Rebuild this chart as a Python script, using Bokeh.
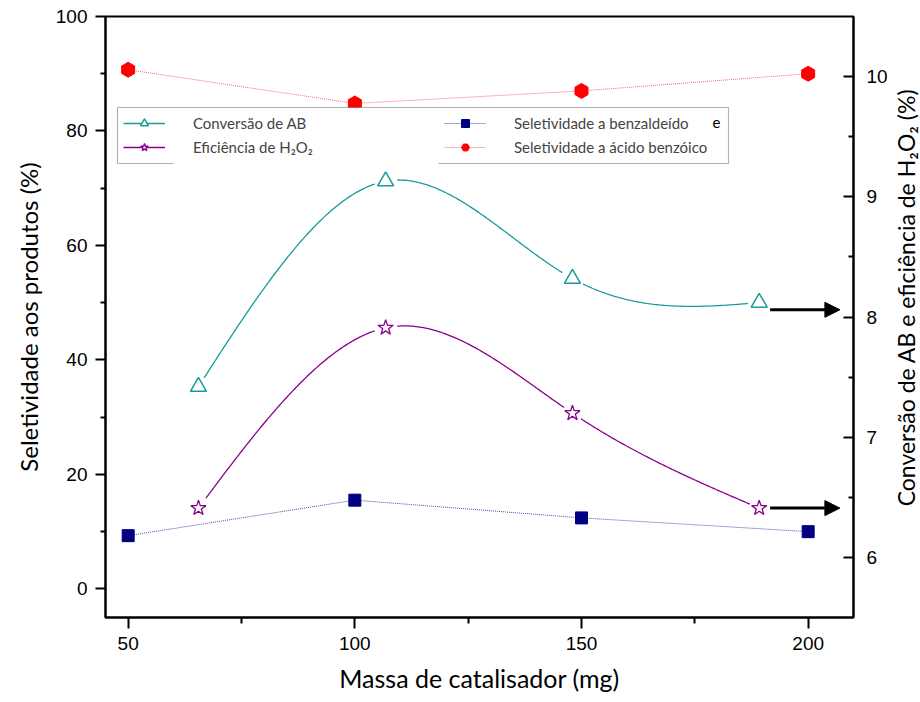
import numpy as np
from bokeh.plotting import figure
from bokeh.layouts import row
from bokeh.models import (Range1d, LinearAxis, Arrow, NormalHead, Legend, LegendItem,
                          FixedTicker, BoxAnnotation, Label)
from bokeh.embed import file_html
from bokeh.resources import INLINE

# ---- data ----
massa = [50, 100, 150, 200]
sel_benzaldeido = [9.3, 15.5, 12.4, 10.0]
sel_acido = [90.7, 84.8, 87.0, 90.0]

massa_conv = [65.5, 106.8, 148.0, 189.2]
conversao_ab = [7.42, 9.13, 8.32, 8.12]
eficiencia_h2o2 = [6.41, 7.91, 7.20, 6.41]

x_ticks = [50, 100, 150, 200]
x_minor = [75, 125, 175]
yl_ticks = [0, 20, 40, 60, 80, 100]
yl_minor = [10, 30, 50, 70, 90]
yr_ticks = [6, 7, 8, 9, 10]
yr_minor = [6.5, 7.5, 8.5, 9.5]

x_title = "Massa de catalisador (mg)"
yl_title = "Seletividade aos produtos (%)"
yr_title = "Conversão de AB e eficiência de H₂O₂ (%)"

TEAL = "#1a9a9a"
PURPLE = "#8B008B"
NAVY = "#000080"
RED = "#FF0000"
TICK_FONT = "Liberation Sans"
TITLE_FONT = "Lato"


def natural_spline(x, y, n=300):
    x = np.asarray(x, float)
    y = np.asarray(y, float)
    m = len(x)
    h = np.diff(x)
    A = np.zeros((m, m))
    b = np.zeros(m)
    A[0, 0] = 1
    A[-1, -1] = 1
    for i in range(1, m - 1):
        A[i, i - 1] = h[i - 1]
        A[i, i] = 2 * (h[i - 1] + h[i])
        A[i, i + 1] = h[i]
        b[i] = 3 * ((y[i + 1] - y[i]) / h[i] - (y[i] - y[i - 1]) / h[i - 1])
    c = np.linalg.solve(A, b)
    xs = np.linspace(x[0], x[-1], n)
    idx = np.clip(np.searchsorted(x, xs) - 1, 0, m - 2)
    dx = xs - x[idx]
    bc = (y[1:] - y[:-1]) / h - h * (2 * c[:-1] + c[1:]) / 3
    d = (c[1:] - c[:-1]) / (3 * h)
    ys = y[idx] + bc[idx] * dx + c[idx] * dx ** 2 + d[idx] * dx ** 3
    return xs, ys


def gap_near_markers(xs, ys, px, py, sx, sy, r=11):
    ys = ys.copy()
    for a, b in zip(px, py):
        dist = np.hypot((xs - a) * sx, (ys - b) * sy)
        ys[dist < r] = np.nan
    return ys


X0, X1 = 45, 210
YL0, YL1 = -5, 100
YR0, YR1 = 5.5, 10.5

W, H = 890, 702          # main plot; a 30 px strip on the right holds the right title
WR = 30
ML, MR, MT, MB = 105, 36, 16, 85

p = figure(width=W, height=H, output_backend="svg", toolbar_location=None,
           x_range=Range1d(X0, X1), y_range=Range1d(YL0, YL1),
           min_border_left=ML, min_border_right=MR, min_border_top=MT, min_border_bottom=MB)
p.extra_y_ranges = {"r": Range1d(YR0, YR1)}
p.grid.visible = False
p.outline_line_color = "black"
p.outline_line_width = 2
p.background_fill_color = "white"
p.border_fill_color = "white"

fw = W - ML - MR
fh = H - MT - MB
sx = fw / (X1 - X0)
syr = fh / (YR1 - YR0)

# ---- smooth curves (right axis) ----
cx, cy = natural_spline(massa_conv, conversao_ab)
cy = gap_near_markers(cx, cy, massa_conv, conversao_ab, sx, syr, r=10)
ex, ey = natural_spline(massa_conv, eficiencia_h2o2)
ey = gap_near_markers(ex, ey, massa_conv, eficiencia_h2o2, sx, syr, r=10)

l_conv = p.line(cx, cy, y_range_name="r", line_color=TEAL, line_width=1.3)
l_efic = p.line(ex, ey, y_range_name="r", line_color=PURPLE, line_width=1.3)
m_conv = p.scatter(massa_conv, conversao_ab, y_range_name="r", marker="triangle", size=16,
                   line_color=TEAL, line_width=1.5, fill_color="white")
m_efic = p.scatter(massa_conv, eficiencia_h2o2, y_range_name="r", marker="star", size=16,
                   line_color=PURPLE, line_width=1.3, fill_color="white")

# ---- selectivity (left axis) ----
l_benz = p.line(massa, sel_benzaldeido, line_color=NAVY, line_width=1, line_dash="1 1", line_alpha=0.7)
l_acid = p.line(massa, sel_acido, line_color=RED, line_width=1, line_dash="1 1", line_alpha=0.6)
m_benz = p.scatter(massa, sel_benzaldeido, marker="square", size=12, line_color=NAVY, fill_color=NAVY)
m_acid = p.scatter(massa, sel_acido, marker="hex", size=15, angle=np.pi / 2,
                   line_color=RED, fill_color=RED)

# ---- arrows pointing to the right axis ----
for yv in (conversao_ab[-1] - 0.06, eficiencia_h2o2[-1]):
    p.add_layout(Arrow(end=NormalHead(size=15, fill_color="black", line_color="black"),
                       x_start=massa_conv[-1] + 2.4, y_start=yv, x_end=X1 - 3.0, y_end=yv,
                       y_range_name="r", line_width=3, line_color="black"))

# ---- axes ----
def style_axis(ax, title_size="24px"):
    ax.axis_line_width = 2
    ax.major_tick_line_width = 2
    ax.minor_tick_line_width = 2
    ax.major_label_text_font = TICK_FONT
    ax.major_label_text_font_size = "19px"
    ax.major_label_text_color = "black"
    ax.axis_label_text_font = TITLE_FONT
    ax.axis_label_text_font_size = title_size
    ax.axis_label_text_font_style = "normal"
    ax.axis_label_text_color = "black"

xa = p.xaxis[0]
xa.ticker = FixedTicker(ticks=x_ticks, minor_ticks=x_minor)
xa.axis_label = x_title
xa.major_tick_out = 11
xa.major_tick_in = 0
xa.minor_tick_out = 6
xa.minor_tick_in = 0
xa.major_label_standoff = 8
xa.axis_label_standoff = 10
style_axis(xa, "25px")

ya = p.yaxis[0]
ya.ticker = FixedTicker(ticks=yl_ticks, minor_ticks=yl_minor)
ya.axis_label = yl_title
ya.major_tick_out = 10
ya.major_tick_in = 0
ya.minor_tick_out = 5
ya.minor_tick_in = 0
ya.major_label_standoff = 8
ya.axis_label_standoff = 10
style_axis(ya)

ra = LinearAxis(y_range_name="r", ticker=FixedTicker(ticks=yr_ticks, minor_ticks=yr_minor))
ra.major_tick_out = 0
ra.major_tick_in = 10
ra.minor_tick_out = 0
ra.minor_tick_in = 5
ra.major_label_standoff = 13
style_axis(ra)
p.add_layout(ra, "right")

# ---- legend box ----
p.add_layout(BoxAnnotation(left=12, right=623, top=510, bottom=454,
                           left_units="screen", right_units="screen",
                           top_units="screen", bottom_units="screen",
                           fill_color="white", fill_alpha=1, line_color="black",
                           line_width=1.2, level="overlay"))
p.add_layout(BoxAnnotation(left=68, right=333, top=456, bottom=452,
                           left_units="screen", right_units="screen",
                           top_units="screen", bottom_units="screen",
                           fill_color="white", fill_alpha=1, line_alpha=0,
                           level="overlay"))
# clipped fragment of a hidden legend text seen in the reference
p.add_layout(Label(x=607, y=490, text="e", x_units="screen", y_units="screen",
                   text_font=TITLE_FONT, text_font_size="15px", text_color="black",
                   level="overlay"))

leg_common = dict(glyph_width=42, glyph_height=20, label_standoff=28,
                  label_text_font=TITLE_FONT, label_text_font_size="15px",
                  label_text_baseline="top",
                  label_height=20, spacing=4, padding=6,
                  border_line_alpha=0, background_fill_alpha=0)
leg1 = Legend(items=[LegendItem(label="Conversão de AB", renderers=[l_conv, m_conv]),
                     LegendItem(label="Eficiência de H₂O₂", renderers=[l_efic, m_efic])],
              location=(12, 454), **leg_common)
leg2 = Legend(items=[LegendItem(label="Seletividade a benzaldeído", renderers=[l_benz, m_benz]),
                     LegendItem(label="Seletividade a ácido benzóico", renderers=[l_acid, m_acid])],
              location=(333, 454), **leg_common)
p.add_layout(leg1, "center")
p.add_layout(leg2, "center")

# ---- right title strip (reads bottom to top, like the reference) ----
pr = figure(width=WR, height=H, output_backend="svg", toolbar_location=None,
            x_axis_type=None, y_axis_type=None, x_range=Range1d(0, 1), y_range=Range1d(0, 1),
            min_border=0)
pr.grid.visible = False
pr.outline_line_color = None
pr.background_fill_color = "white"
pr.border_fill_color = "white"
pr.add_layout(Label(x=WR / 2, y=H - 382, text=yr_title, angle=np.pi / 2,
                    x_units="screen", y_units="screen", text_font=TITLE_FONT,
                    text_font_size="23px", text_color="black",
                    text_align="center", text_baseline="middle"))

layout = row(p, pr, spacing=0)
open("out.html", "w").write(file_html(layout, INLINE))
